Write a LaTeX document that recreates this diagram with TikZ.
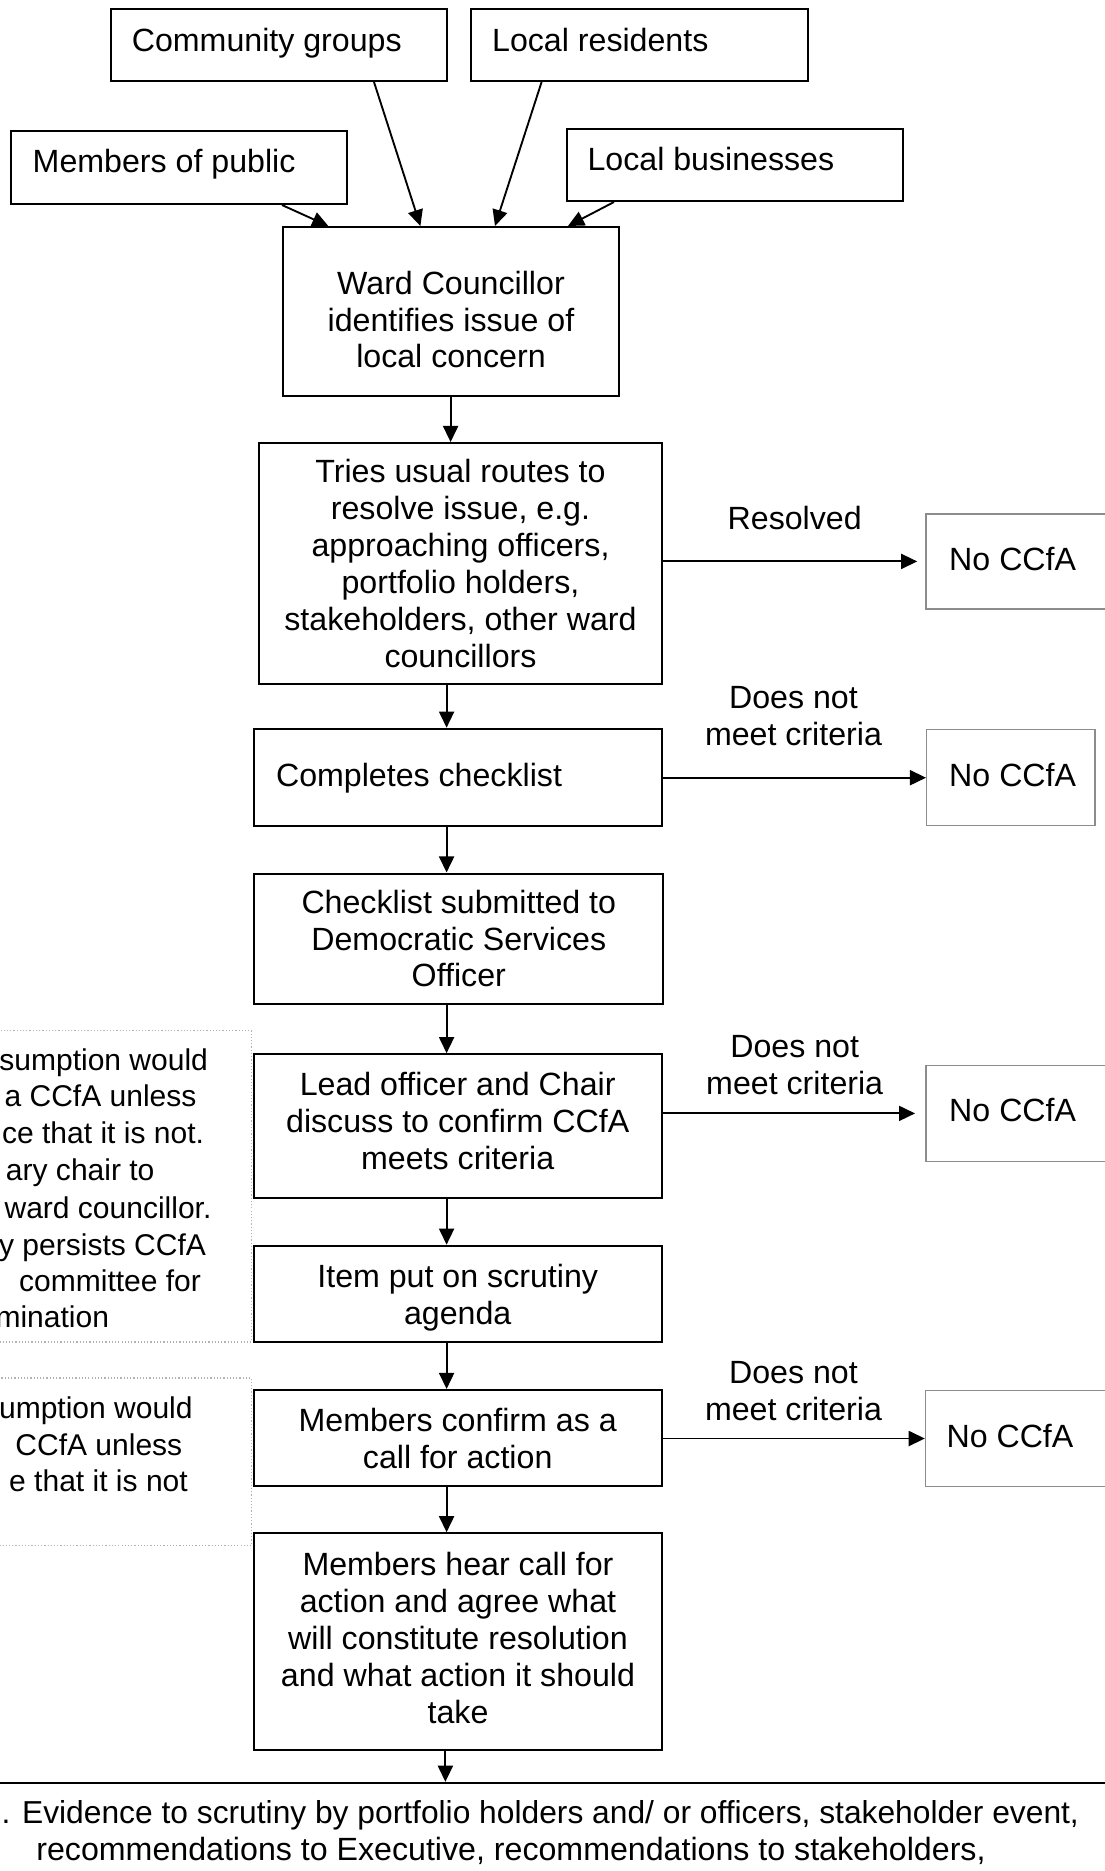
\documentclass[tikz,border=0pt]{standalone}
\usepackage{fontspec}
\setmainfont{Liberation Sans}
\usetikzlibrary{arrows.meta,calc}
\newdimen\pu \pu=0.37313pt
\begin{document}
\begin{tikzpicture}[x=0.37313pt, y=-0.37313pt,
  every node/.style={font=\fontsize{12}{13.8}\selectfont, inner sep=0pt},
  mbox/.style={draw, line width=0.75pt, align=center},
  gbox/.style={draw=black!45, line width=0.55pt},
  dbox/.style={draw=black!30, line width=0.5pt, dash pattern=on 0.45pt off 0.75pt},
  frag/.style={text height=8.6pt, text depth=2.5pt},
  sfrag/.style={frag, anchor=east, font=\fontsize{11.2}{13.5}\selectfont},
  arr/.style={line width=0.7pt, -{Triangle[length=6pt,width=5.6pt]}},
  lbl/.style={align=center}
]
\fill[white] (0,0) rectangle (1105,1871);
\useasboundingbox (0,0) rectangle (1105,1871);
\clip (0,0) rectangle (1105,1871);

% top source boxes
\node[mbox, minimum width=336.2\pu, minimum height=72\pu] (cg) at (278.7,45) {};
\node[frag, anchor=west] (cgt) at (131.3,43) {Community groups};
\node[mbox, minimum width=337\pu, minimum height=72\pu] (lr) at (639.2,45) {};
\node[frag, anchor=west] (lrt) at (491.6,43) {Local residents};
\node[mbox, minimum width=336.8\pu, minimum height=73\pu] (mp) at (179,167.5) {};
\node[frag, anchor=west] (mpt) at (32.2,164.6) {Members of public};
\node[mbox, minimum width=336\pu, minimum height=72\pu] (lb) at (734.6,165) {};
\node[frag, anchor=west] (lbt) at (587,162.3) {Local businesses};

% main chain
\node[mbox, minimum width=336\pu, minimum height=169\pu] (ward) at (450.6,311.5) {};
\node[lbl] (wardt) at (451,319.5) {Ward Councillor\\identifies issue of\\local concern};
\node[mbox, minimum width=403.8\pu, minimum height=240.7\pu] (tries) at (460.5,563.4)
  {Tries usual routes to\\resolve issue, e.g.\\approaching officers,\\portfolio holders,\\stakeholders, other ward\\councillors};
\node[mbox, minimum width=408\pu, minimum height=97\pu] (compl) at (458.4,777.2) {};
\node[frag, anchor=west] (complt) at (275.5,778.1) {Completes checklist};
\node[mbox, minimum width=409\pu, minimum height=130\pu] (check) at (458.8,938.5)
  {Checklist submitted to\\Democratic Services\\Officer};
\node[mbox, minimum width=408\pu, minimum height=144\pu] (lead) at (457.7,1126.2) {};
\node[lbl] (leadt) at (457.7,1121.4) {Lead officer and Chair\\discuss to confirm CCfA\\meets criteria};
\node[mbox, minimum width=408\pu, minimum height=96.4\pu] (item) at (457.7,1293.9) {};
\node[lbl] (itemt) at (457.7,1297.5) {Item put on scrutiny\\agenda};
\node[mbox, minimum width=408\pu, minimum height=96.4\pu] (conf) at (457.7,1438.2)
  {Members confirm as a\\call for action};
\node[mbox, minimum width=408.7\pu, minimum height=216.7\pu] (hear) at (458,1641.6) {};
\node[lbl] (heart) at (458,1638) {Members hear call for\\action and agree what\\will constitute resolution\\and what action it should\\take};

% No CCfA boxes
\node[gbox, minimum width=184\pu, minimum height=95.3\pu] (nc1) at (1018,561.4) {};
\node[frag, anchor=west] (nc1t) at (948.7,562.1) {No CCfA};
\node[gbox, minimum width=168.3\pu, minimum height=96\pu] (nc2) at (1010.9,777.7) {};
\node[frag, anchor=west] (nc2t) at (948.7,778) {No CCfA};
\node[gbox, minimum width=184\pu, minimum height=96\pu] (nc3) at (1018,1113.4) {};
\node[frag, anchor=west] (nc3t) at (948.7,1113.4) {No CCfA};
\node[gbox, minimum width=184.5\pu, minimum height=95.7\pu] (nc4) at (1017.8,1438.5) {};
\node[frag, anchor=west] (nc4t) at (946,1439.1) {No CCfA};

% labels
\node[lbl] (res) at (794.7,518) {Resolved};
\node[lbl] (dn1) at (793.5,716.5) {Does not\\meet criteria};
\node[lbl] (dn2) at (794.7,1065) {Does not\\meet criteria};
\node[lbl] (dn3) at (793.5,1391.5) {Does not\\meet criteria};

% left dotted boxes
\node[dbox, minimum width=271.7\pu, minimum height=311.3\pu] (ld1) at (115.85,1186.35) {};
\node[sfrag] (l11) at (208.5,1062.5) {sumption would};
\node[sfrag] (l12) at (197,1098.5) {a CCfA unless};
\node[sfrag] (l13) at (204.5,1135) {ce that it is not.};
\node[sfrag] (l14) at (155,1172.5) {ary chair to};
\node[sfrag] (l15) at (212,1210) {ward councillor.};
\node[sfrag] (l16) at (206.5,1247) {y persists CCfA};
\node[sfrag] (l17) at (201.5,1283.2) {committee for};
\node[sfrag] (l18) at (109.5,1319.5) {mination};
\node[dbox, minimum width=271.7\pu, minimum height=167.5\pu] (ld2) at (115.85,1461.75) {};
\node[sfrag] (l21) at (193.2,1410.5) {umption would};
\node[sfrag] (l22) at (182.8,1447) {CCfA unless};
\node[sfrag] (l23) at (188.3,1483.5) {e that it is not};

% bottom box
\node[draw, line width=0.9pt, minimum width=1145\pu, minimum height=200\pu] (bot) at (552.5,1883) {};
\node[frag, anchor=west, font=\fontsize{11.85}{13.8}\selectfont] (b1) at (1,1815.6) {. Evidence to scrutiny by portfolio holders and/ or officers, stakeholder event,};
\node[frag] (b2) at (511,1852) {recommendations to Executive, recommendations to stakeholders,};

% connectors
\coordinate (ax) at (446.6,0);
\coordinate (bx) at (445.4,0);
\draw[arr] ($(cg.south west)+(264.4,0)$) -- ($(ward.north west)+(138.8,0)$);
\draw[arr] ($(lr.south west)+(71.9,0)$) -- ($(ward.north west)+(213.4,0)$);
\draw[arr] ($(mp.south west)+(272.4,0)$) -- ($(ward.north west)+(46.7,0)$);
\draw[arr] ($(lb.south west)+(48.4,0)$) -- ($(ward.north west)+(286.4,0)$);
\draw[arr] (ward.south) -- (tries.north -| ward.south);
\draw[arr] (tries.south -| ax) -- (compl.north -| ax);
\draw[arr] (compl.south -| ax) -- (check.north -| ax);
\draw[arr] (check.south -| ax) -- (lead.north -| ax);
\draw[arr] (lead.south -| ax) -- (item.north -| ax);
\draw[arr] (item.south -| ax) -- (conf.north -| ax);
\draw[arr] (conf.south -| ax) -- (hear.north -| ax);
\draw[arr] (hear.south -| bx) -- (bot.north -| bx);
\draw[arr, shorten >=3pt] (tries.east |- nc1.west) -- (nc1.west);
\draw[arr] (compl.east |- nc2.west) -- (nc2.west);
\draw[arr, shorten >=3.8pt] (lead.east |- nc3.west) -- (nc3.west);
\draw[arr] (conf.east |- nc4.west) -- (nc4.west);
\end{tikzpicture}
\end{document}
